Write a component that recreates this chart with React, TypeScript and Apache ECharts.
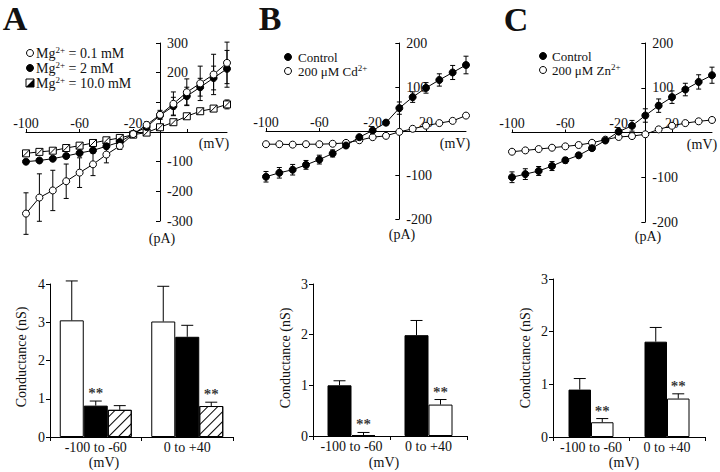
import React, { useEffect, useRef } from 'react';
import * as echarts from 'echarts';

const FONT = 'Liberation Serif';

// ---- I-V curves (top) ----
const voltages = [-100, -90, -80, -70, -60, -50, -40, -30, -20, -10, 0, 10, 20, 30, 40, 50];

const aLow = [-275, -221, -197, -166, -137, -109, -76, -47, -7, 24, 58, 95, 134, 164, 194, 233];
const aLowErr = [70, 80, 68, 58, 50, 38, 28, 12, 6, 10, 15, 40, 45, 58, 68, 70];
const aMid = [-100, -96, -90, -81, -71, -62, -48, -34, -6, 17, 56, 87, 121, 151, 182, 213];
const aMidErr = [6, 6, 6, 6, 6, 6, 8, 6, 5, 6, 12, 30, 30, 30, 40, 62];
const aHigh = [-72, -67, -63, -54, -46, -37, -28, -20, -9, -2, 16, 33, 53, 70, 79, 93];
const aHighErr = [6, 6, 6, 6, 6, 6, 6, 5, 5, 5, 6, 6, 8, 8, 10, 15];

const bCtrl = [-104, -95, -88, -77, -65, -51, -33, -14, 1, 19, 52, 77, 98, 116, 133, 150];
const bCtrlErr = [12, 12, 12, 10, 10, 8, 5, 4, 4, 5, 14, 12, 12, 14, 16, 20];
const bCd = [-30, -30, -31, -30, -30, -29, -27, -21, -14, -11, -2, 5, 12, 18, 23, 35];
const bCdErr = [3, 3, 3, 3, 3, 3, 3, 3, 3, 3, 3, 3, 3, 3, 3, 4];

const cCtrl = [-100, -93, -86, -75, -62, -51, -35, -18, 2, 15, 38, 60, 79, 96, 113, 128];
const cCtrlErr = [12, 12, 10, 10, 6, 5, 4, 4, 4, 12, 15, 15, 14, 14, 16, 18];
const cZn = [-43, -40, -37, -34, -31, -28, -23, -16, -10, -8, -4, 7, 15, 21, 25, 28];
const cZnErr = [3, 3, 3, 3, 3, 3, 3, 3, 3, 3, 3, 3, 3, 3, 3, 3];

const xMin = -100;
const xMax = 50;
const xTickValues = [-100, -60, -20, 20];
const aXLabels = [-100, -60, -20];
const bcXLabels = [-100, -60, -20, 20];
const aYTicks = [-300, -200, -100, 0, 100, 200, 300];
const aYLabels = [300, 200, -100, -200, -300];
const bcYTicks = [-200, -100, 0, 100, 200];
const bcYLabels = [200, 100, -100, -200];

const aLegend = ['Mg{s|2+} = 0.1 mM', 'Mg{s|2+} = 2 mM', 'Mg{s|2+} = 10.0 mM'];
const bLegend = ['Control', '200 μM Cd{s|2+}'];
const cLegend = ['Control', '200 μM Zn{s|2+}'];

// ---- Conductance bars (bottom) ----
const ranges = ['-100 to -60', '0 to +40'];
const gA01 = [3.05, 3.02];
const gA01Err = [1.03, 0.92];
const gA2 = [0.82, 2.62];
const gA2Err = [0.12, 0.3];
const gA10 = [0.71, 0.81];
const gA10Err = [0.11, 0.1];
const sigA2 = [1, 0];
const sigA10 = [0, 1];

const gBCtrl = [1.0, 1.99];
const gBCtrlErr = [0.09, 0.29];
const gBCd = [0.02, 0.62];
const gBCdErr = [0.05, 0.1];
const sigBCd = [1, 1];

const gCCtrl = [0.9, 1.81];
const gCCtrlErr = [0.21, 0.27];
const gCZn = [0.28, 0.73];
const gCZnErr = [0.07, 0.09];
const sigCZn = [1, 1];

const BLACK = '#000';
const TXT = '#111';

function ivErrRender(params: any, api: any) {
  const x = api.value(0);
  const y = api.value(1);
  const e = api.value(2);
  const t = api.coord([x, y + e]);
  const b = api.coord([x, y - e]);
  const w = 2.5;
  const st = { stroke: BLACK, lineWidth: 1 };
  return {
    type: 'group',
    children: [
      { type: 'line', shape: { x1: t[0], y1: t[1], x2: b[0], y2: b[1] }, style: st },
      { type: 'line', shape: { x1: t[0] - w, y1: t[1], x2: t[0] + w, y2: t[1] }, style: st },
      { type: 'line', shape: { x1: b[0] - w, y1: b[1], x2: b[0] + w, y2: b[1] }, style: st },
    ],
  };
}

function barErrRender(idx: number, n: number, bw: number) {
  return (params: any, api: any) => {
    const c = api.value(0);
    const v = api.value(1);
    const e = api.value(2);
    const base = api.coord([c, v]);
    const top = api.coord([c, v + e]);
    const x = base[0] + (idx - (n - 1) / 2) * bw;
    const st = { stroke: BLACK, lineWidth: 1 };
    return {
      type: 'group',
      children: [
        { type: 'line', shape: { x1: x, y1: base[1], x2: x, y2: top[1] }, style: st },
        { type: 'line', shape: { x1: x - 6, y1: top[1], x2: x + 6, y2: top[1] }, style: st },
      ],
    };
  };
}

const ivTriples = (vals: number[], errs: number[]) => voltages.map((v, i) => [v, vals[i], errs[i]]);
const ivPairs = (vals: number[]) => voltages.map((v, i) => [v, vals[i]]);
const barTriples = (vals: number[], errs: number[]) => vals.map((v, i) => [i, v, errs[i]]);

const topGrids = [
  { left: 26, top: 43, width: 201, height: 178, lim: 300 },
  { left: 266, top: 43, width: 200, height: 176, lim: 200 },
  { left: 512, top: 43, width: 200, height: 179, lim: 200 },
];

function topX(gridIndex: number, labels: number[]) {
  const gd = topGrids[gridIndex];
  return {
    type: 'value',
    gridIndex,
    min: xMin,
    max: xMax,
    position: 'bottom',
    offset: -gd.height / 2,
    axisLine: { show: true, onZero: false, lineStyle: { color: BLACK, width: 1 } },
    axisTick: { show: true, inside: true, length: 3, customValues: xTickValues, lineStyle: { color: BLACK } },
    axisLabel: {
      show: true,
      inside: true,
      margin: 2,
      customValues: labels,
      fontSize: 14,
      fontFamily: FONT,
      color: TXT,
    },
    splitLine: { show: false },
  };
}

function topY(gridIndex: number, ticks: number[], labels: number[]) {
  const gd = topGrids[gridIndex];
  return {
    type: 'value',
    gridIndex,
    min: -gd.lim,
    max: gd.lim,
    position: 'left',
    offset: -gd.width * (0 - xMin) / (xMax - xMin),
    axisLine: { show: true, onZero: false, lineStyle: { color: BLACK, width: 1 } },
    axisTick: { show: true, inside: false, length: 4, customValues: ticks, lineStyle: { color: BLACK } },
    axisLabel: {
      show: true,
      inside: true,
      margin: 7,
      customValues: labels,
      fontSize: 14,
      fontFamily: FONT,
      color: TXT,
    },
    splitLine: { show: false },
  };
}

function botX(gridIndex: number) {
  return {
    type: 'category',
    gridIndex,
    data: ranges,
    axisLine: { show: true, lineStyle: { color: BLACK, width: 1 } },
    axisTick: { show: true, length: 4, lineStyle: { color: BLACK } },
    axisLabel: { fontSize: 14, fontFamily: FONT, color: TXT, margin: 3, interval: 0 },
    splitLine: { show: false },
  };
}

function botY(gridIndex: number, max: number) {
  return {
    type: 'value',
    gridIndex,
    min: 0,
    max,
    interval: 1,
    axisLine: { show: true, lineStyle: { color: BLACK, width: 1 } },
    axisTick: { show: true, length: 4, lineStyle: { color: BLACK } },
    axisLabel: { fontSize: 14, fontFamily: FONT, color: TXT, margin: 5 },
    splitLine: { show: false },
  };
}

function lineSeries(idx: number, vals: number[], fill: string, symbol = 'circle', size = 7) {
  return {
    type: 'line',
    xAxisIndex: idx,
    yAxisIndex: idx,
    data: ivPairs(vals),
    symbol,
    symbolSize: size,
    showAllSymbol: true,
    lineStyle: { color: BLACK, width: 1 },
    itemStyle: { color: fill, borderColor: BLACK, borderWidth: 1 },
    z: 3,
  };
}

function errSeries(idx: number, vals: number[], errs: number[]) {
  return {
    type: 'custom',
    xAxisIndex: idx,
    yAxisIndex: idx,
    data: ivTriples(vals, errs),
    encode: { x: 0, y: 1 },
    renderItem: ivErrRender,
    itemStyle: { color: BLACK },
    z: 2,
  };
}

const hatchDecal = {
  symbol: 'rect',
  symbolSize: 1,
  color: BLACK,
  backgroundColor: '#fff',
  dashArrayX: [1, 0],
  dashArrayY: [1, 6],
  rotation: -Math.PI / 4,
};

function barSeries(idx: number, vals: number[], fill: string, bw: number, hatch = false) {
  const itemStyle: any = { color: fill, borderColor: BLACK, borderWidth: 1 };
  if (hatch) itemStyle.decal = hatchDecal;
  return {
    type: 'bar',
    xAxisIndex: idx,
    yAxisIndex: idx,
    data: vals,
    barWidth: bw,
    barGap: '0%',
    itemStyle,
    z: 2,
  };
}

function barErr(idx: number, k: number, n: number, bw: number, vals: number[], errs: number[]) {
  return {
    type: 'custom',
    xAxisIndex: idx,
    yAxisIndex: idx,
    data: barTriples(vals, errs),
    encode: { x: 0, y: 1 },
    renderItem: barErrRender(k, n, bw),
    itemStyle: { color: BLACK },
    z: 3,
  };
}

// significance markers: invisible points at the top of the error bar carrying a "**" label
function sigSeries(idx: number, k: number, n: number, bw: number, vals: number[], errs: number[], sig: number[]) {
  const data = vals
    .map((v, i) => (sig[i] ? [i, v + errs[i]] : null))
    .filter((d) => d !== null);
  return {
    type: 'scatter',
    xAxisIndex: idx,
    yAxisIndex: idx,
    data,
    symbol: 'circle',
    symbolSize: 1,
    itemStyle: { color: 'rgba(0,0,0,0)' },
    label: {
      show: true,
      position: 'top',
      distance: 0,
      offset: [(k - (n - 1) / 2) * bw, 0],
      formatter: '**',
      color: BLACK,
      fontSize: 15,
      fontWeight: 'bold',
      fontFamily: FONT,
    },
    z: 4,
  };
}

function txt(x: number, y: number, text: string, size = 14, extra: any = {}) {
  return {
    type: 'text',
    x,
    y,
    ...extra,
    style: {
      text,
      fontSize: size,
      fontFamily: FONT,
      fill: TXT,
      align: extra.align || 'center',
      textAlign: extra.align || 'center',
      verticalAlign: 'middle',
      textVerticalAlign: 'middle',
      fontWeight: extra.fontWeight || 'normal',
      rich: { s: { fontSize: 9, fontFamily: FONT, fill: TXT, padding: [0, 0, 7, 0] } },
    },
  };
}

function circ(cx: number, cy: number, fill: string) {
  return { type: 'circle', shape: { cx, cy, r: 3.5 }, style: { fill, stroke: BLACK, lineWidth: 1 } };
}

export default function App() {
  const ref = useRef<HTMLDivElement>(null);
  useEffect(() => {
    if (!ref.current) return;
    const chart = echarts.init(ref.current, undefined, { renderer: 'svg' });
    const g = (left: number, top: number, width: number, height: number) => ({
      left,
      top,
      width,
      height,
      containLabel: false,
      outerBoundsMode: 'none',
    });

    const graphic: any[] = [
      // panel letters
      txt(15, 18, 'A', 34, { fontWeight: 'bold' }),
      txt(270, 18, 'B', 34, { fontWeight: 'bold' }),
      txt(516, 19, 'C', 34, { fontWeight: 'bold' }),
      // legend A
      circ(30, 53, '#fff'),
      circ(30, 68, '#000'),
      { type: 'rect', shape: { x: 26, y: 79, width: 8, height: 8 }, style: { fill: '#fff', stroke: BLACK, lineWidth: 1 } },
      { type: 'polygon', shape: { points: [[26, 87], [34, 79], [34, 87]] }, style: { fill: BLACK } },
      txt(36, 53, aLegend[0], 14, { align: 'left' }),
      txt(36, 68, aLegend[1], 14, { align: 'left' }),
      txt(36, 83, aLegend[2], 14, { align: 'left' }),
      // legend B
      circ(288, 57, '#000'),
      circ(288, 71, '#fff'),
      txt(298, 57, bLegend[0], 13, { align: 'left' }),
      txt(298, 71, bLegend[1], 13, { align: 'left' }),
      // legend C
      circ(543, 56, '#000'),
      circ(543, 70, '#fff'),
      txt(552, 56, cLegend[0], 13, { align: 'left' }),
      txt(552, 70, cLegend[1], 13, { align: 'left' }),
      // axis unit labels top
      txt(214, 143, '(mV)'),
      txt(455, 143, '(mV)'),
      txt(702, 144, '(mV)'),
      txt(162, 238, '(pA)'),
      txt(402, 234, '(pA)'),
      txt(648, 236, '(pA)'),
      // bottom unit labels
      txt(104, 462, '(mV)'),
      txt(384, 462, '(mV)'),
      txt(624, 462, '(mV)'),
      txt(21, 357, 'Conductance (nS)', 14, { rotation: Math.PI / 2 }),
      txt(285, 358, 'Conductance (nS)', 14, { rotation: Math.PI / 2 }),
      txt(525, 358, 'Conductance (nS)', 14, { rotation: Math.PI / 2 }),
    ];

    const hatchSym = 'path://M0 0H10V10H0Z M0 10L10 0';

    chart.setOption({
      animation: false,
      backgroundColor: '#fff',
      grid: [
        ...topGrids.map((t) => g(t.left, t.top, t.width, t.height)),
        g(50, 284, 183, 153),
        g(313, 284, 154, 152),
        g(553, 279, 152, 158),
      ],
      xAxis: [topX(0, aXLabels), topX(1, bcXLabels), topX(2, bcXLabels), botX(3), botX(4), botX(5)],
      yAxis: [
        topY(0, aYTicks, aYLabels),
        topY(1, bcYTicks, bcYLabels),
        topY(2, bcYTicks, bcYLabels),
        botY(3, 4),
        botY(4, 3),
        botY(5, 3),
      ],
      graphic,
      series: [
        errSeries(0, aLow, aLowErr),
        errSeries(0, aMid, aMidErr),
        errSeries(0, aHigh, aHighErr),
        lineSeries(0, aHigh, '#fff', hatchSym, 7),
        lineSeries(0, aMid, '#000'),
        lineSeries(0, aLow, '#fff'),
        errSeries(1, bCtrl, bCtrlErr),
        errSeries(1, bCd, bCdErr),
        lineSeries(1, bCd, '#fff'),
        lineSeries(1, bCtrl, '#000'),
        errSeries(2, cCtrl, cCtrlErr),
        errSeries(2, cZn, cZnErr),
        lineSeries(2, cZn, '#fff'),
        lineSeries(2, cCtrl, '#000'),
        barSeries(3, gA01, '#fff', 24),
        barSeries(3, gA2, '#000', 24),
        barSeries(3, gA10, '#fff', 24, true),
        barErr(3, 0, 3, 24, gA01, gA01Err),
        barErr(3, 1, 3, 24, gA2, gA2Err),
        barErr(3, 2, 3, 24, gA10, gA10Err),
        sigSeries(3, 1, 3, 24, gA2, gA2Err, sigA2),
        sigSeries(3, 2, 3, 24, gA10, gA10Err, sigA10),
        barSeries(4, gBCtrl, '#000', 24),
        barSeries(4, gBCd, '#fff', 24),
        barErr(4, 0, 2, 24, gBCtrl, gBCtrlErr),
        barErr(4, 1, 2, 24, gBCd, gBCdErr),
        sigSeries(4, 1, 2, 24, gBCd, gBCdErr, sigBCd),
        barSeries(5, gCCtrl, '#000', 22.5),
        barSeries(5, gCZn, '#fff', 22.5),
        barErr(5, 0, 2, 22.5, gCCtrl, gCCtrlErr),
        barErr(5, 1, 2, 22.5, gCZn, gCZnErr),
        sigSeries(5, 1, 2, 22.5, gCZn, gCZnErr, sigCZn),
      ],
    });
    return () => chart.dispose();
  }, []);
  return (
    <div
      ref={ref}
      style={{ position: 'fixed', left: 0, top: 0, width: 720, height: 472, background: '#fff' }}
    />
  );
}
